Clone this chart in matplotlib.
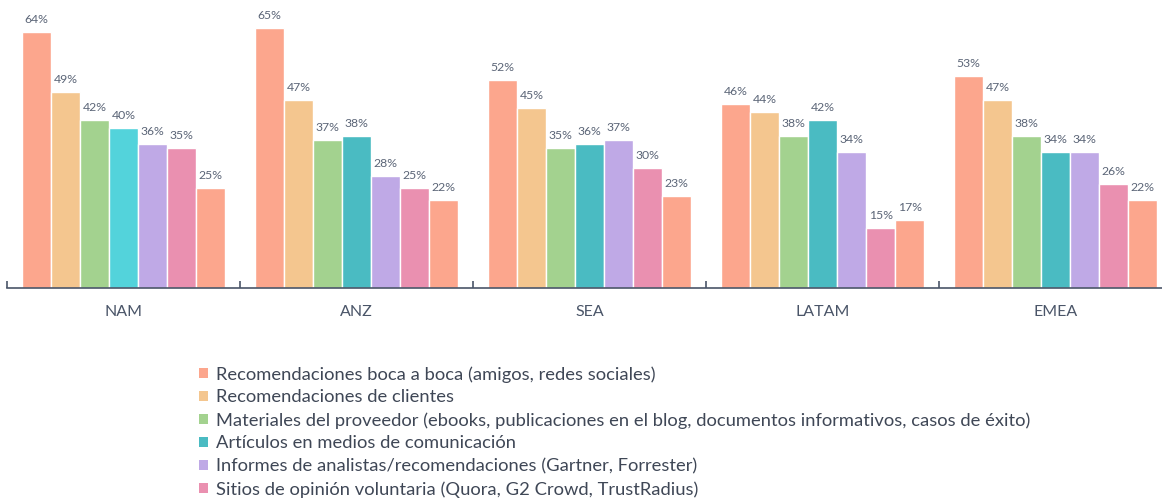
import matplotlib
matplotlib.use("Agg")
import matplotlib.pyplot as plt
from matplotlib.patches import Patch
import numpy as np

plt.rcParams['font.family'] = ['Lato', 'DejaVu Sans']

regions = ["NAM", "ANZ", "SEA", "LATAM", "EMEA"]

series_labels = [
    "Recomendaciones boca a boca (amigos, redes sociales)",
    "Recomendaciones de clientes",
    "Materiales del proveedor (ebooks, publicaciones en el blog, documentos informativos, casos de éxito)",
    "Artículos en medios de comunicación",
    "Informes de analistas/recomendaciones (Gartner, Forrester)",
    "Sitios de opinión voluntaria (Quora, G2 Crowd, TrustRadius)",
    None,
]

boca_a_boca = [64, 65, 52, 46, 53]
clientes = [49, 47, 45, 44, 47]
proveedor = [42, 37, 35, 38, 38]
medios = [40, 38, 36, 42, 34]
analistas = [36, 28, 37, 34, 34]
opinion = [35, 25, 30, 15, 26]
otros = [25, 22, 23, 17, 22]

series = [boca_a_boca, clientes, proveedor, medios, analistas, opinion, otros]
colors = ["#FCA68D", "#F4C68F", "#A3D28F", "#4ABBC2", "#BFA9E6", "#EA90B0", "#FCA68D"]
nam_media_color = "#53D3DB"

fig = plt.figure(figsize=(11.62, 5.0), dpi=100)
ax = fig.add_axes([7 / 1162, 212 / 500, 1165 / 1162, 280 / 500])

n = len(series)
pitch = 0.1245
x = np.arange(len(regions))
label_color = "#5B6577"

for i, vals in enumerate(series):
    pos = x - 0.5 + 15 / 233 + pitch * (i + 0.5)
    cols = [colors[i]] * len(regions)
    if i == 3:
        cols[0] = nam_media_color
    bars = ax.bar(pos, vals, width=pitch, color=cols, edgecolor="white", linewidth=1.0)
    for b, v in zip(bars, vals):
        ax.annotate(f"{v}%", (b.get_x() + b.get_width() / 2, v),
                    xytext=(0, 5), textcoords="offset points",
                    ha="center", va="bottom", fontsize=8.8, color=label_color)

ax.set_xlim(-0.5, len(regions) - 0.5)
ax.set_ylim(0, 70)
ax.set_yticks([])
for s in ["top", "right", "left"]:
    ax.spines[s].set_visible(False)
ax.spines["bottom"].set_color("#4A5568")
ax.spines["bottom"].set_linewidth(1.2)

ax.set_xticks(np.arange(len(regions) + 1) - 0.5, minor=True)
ax.tick_params(axis="x", which="minor", length=5, width=1.2, color="#4A5568", direction="in")
ax.set_xticks(x)
ax.set_xticklabels(regions, fontsize=11.5, color="#4A5568")
ax.tick_params(axis="x", which="major", length=0, pad=12)

handles = [Patch(facecolor=colors[i], edgecolor="none") for i in range(6)]
fig.legend(handles, series_labels[:6], loc="upper left",
           bbox_to_anchor=(199 / 1162, 1 - 366 / 500), frameon=False,
           fontsize=13.2, handlelength=0.5, handleheight=0.5, handletextpad=0.4,
           labelspacing=0.37, labelcolor="#3F4756", borderaxespad=0, borderpad=0)

fig.savefig("out.png", dpi=100)
